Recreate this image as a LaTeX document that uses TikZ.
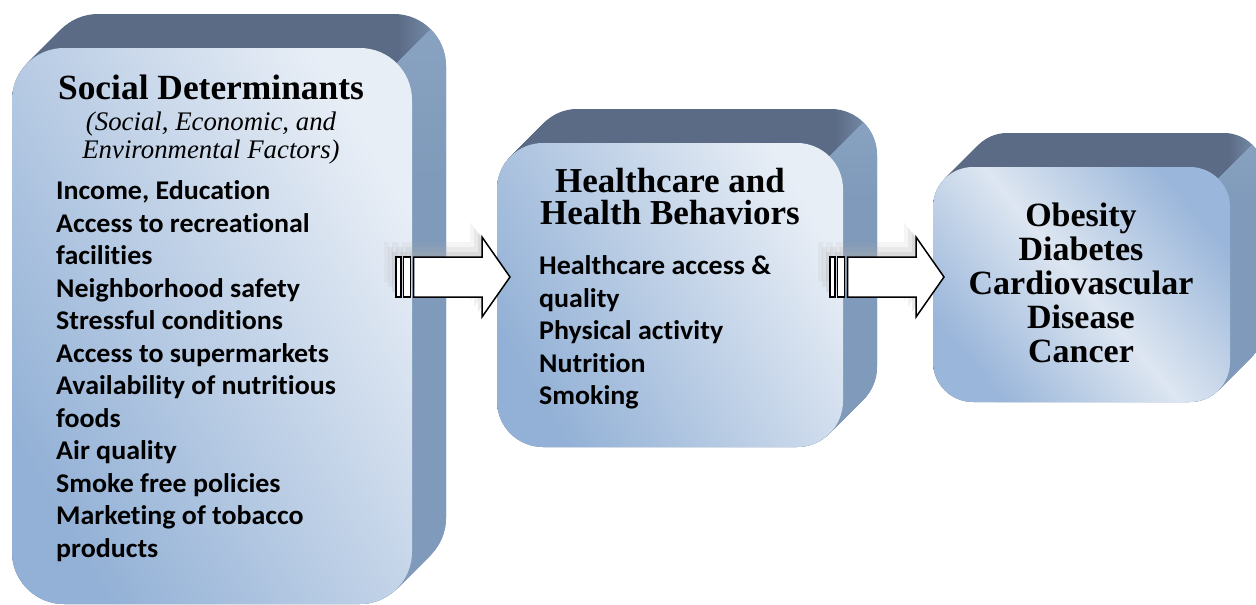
\documentclass[tikz,border=0pt]{standalone}
\usepackage{fontspec}
\setmainfont{Liberation Serif}
\newfontfamily\bodyfont{Carlito}[Ligatures=NoCommon,FakeStretch=1.035]
\usetikzlibrary{calc}
\definecolor{topface}{HTML}{5B6B85}
\definecolor{topfacelight}{HTML}{7F97B6}
\definecolor{sideface}{HTML}{7F9ABA}
\definecolor{sidefacelight}{HTML}{8AA3C2}
\definecolor{facedark}{HTML}{93B1D6}
\definecolor{facelight}{HTML}{E8EEF6}
\definecolor{facemid}{HTML}{DDE6F1}
\definecolor{facedarkb}{HTML}{9AB6DA}
\definecolor{ghostgray}{HTML}{B0B0B0}
\pgfdeclarehorizontalshading{topshade}{100bp}{color(0bp)=(topface); color(69bp)=(topface); color(75bp)=(topfacelight); color(100bp)=(topfacelight)}
\pgfdeclareverticalshading{sideshade}{100bp}{color(0bp)=(sideface); color(60bp)=(sideface); color(75bp)=(sidefacelight); color(100bp)=(sidefacelight)}
\tikzset{
  topfill/.style={shading=topshade},
  sidefill/.style={shading=sideshade},
  frontA/.style={top color=facelight,bottom color=facedark,shading angle=-60,inner sep=0pt,outer sep=0pt},
  frontB/.style={top color=facedarkb,bottom color=facedarkb,middle color=facemid,shading angle=-50,inner sep=0pt,outer sep=0pt},
  heading/.style={font=\fontsize{35.4}{35}\selectfont\bfseries,anchor=base,inner sep=0pt},
  headingB/.style={font=\fontsize{35}{35}\selectfont\bfseries,anchor=base,inner sep=0pt},
  headingC/.style={font=\fontsize{34}{34}\selectfont\bfseries,anchor=base,inner sep=0pt},
  subhead/.style={font=\fontsize{26.8}{27}\selectfont\itshape,anchor=base,inner sep=0pt},
  item/.style={font=\bodyfont\fontsize{27}{27}\selectfont\bfseries,anchor=base west,inner sep=0pt},
  arrowbody/.style={fill=white,draw=black,line width=1.5pt,line join=miter},
  ghostfill/.style={fill=ghostgray}
}
% extruded depth of a rounded box: x1 y1 x2 y2 radius
\newcommand\cubedepth[5]{%
  \foreach \i in {0,...,34}{\shade[topfill,rounded corners=#5pt] (#1+\i,#2-\i) rectangle (#3+\i,#4-\i);}
  \begin{scope}
    \pgfmathsetmacro\cpx{#3-0.293*#5}\pgfmathsetmacro\cpy{#2+0.293*#5}
    \clip (\cpx+1000,\cpy-1000) -- (\cpx-1000,\cpy+1000) -- (\cpx+1000,\cpy+1000) -- cycle;
    \foreach \i in {0,...,34}{\shade[sidefill,rounded corners=#5pt] (#1+\i,#2-\i) rectangle (#3+\i,#4-\i);}
  \end{scope}
}
% block arrow: x0, y centre, name
\newcommand\blockarrow[3]{%
  \foreach \dx/\dy/\op in {-12/-15/0.12,-8/-10/0.18,-4/-5/0.25}{
    \begin{scope}[shift={(\dx,\dy)}]
      \fill[ghostfill,opacity=\op] (#1,#2-20) rectangle (#1+5,#2+20);
      \fill[ghostfill,opacity=\op] (#1+7.5,#2-20) rectangle (#1+14.5,#2+20);
      \fill[ghostfill,opacity=\op] (#1+17.5,#2-20) -- (#1+86,#2-20) -- (#1+86,#2-40) -- (#1+114,#2) -- (#1+86,#2+40) -- (#1+86,#2+20) -- (#1+17.5,#2+20) -- cycle;
    \end{scope}
  }
  \draw[arrowbody] (#1,#2-20) rectangle (#1+5,#2+20);
  \draw[arrowbody] (#1+7.5,#2-20) rectangle (#1+14.5,#2+20);
  \draw[arrowbody] (#1+17.5,#2-20) -- (#1+86,#2-20) -- (#1+86,#2-40) -- (#1+114,#2) coordinate (#3) -- (#1+86,#2+40) -- (#1+86,#2+20) -- (#1+17.5,#2+20) -- cycle;
}
\begin{document}
\begin{tikzpicture}[x=1pt,y=-1pt]
\useasboundingbox (0,0) rectangle (1256,605);
\clip (0,0) rectangle (1256,605);
% box 1
\cubedepth{12}{48}{412}{604}{52}
\node[frontA,rounded corners=52pt,minimum width=400pt,minimum height=556pt] (b1) at (212,326) {};
% box 2
\cubedepth{497}{143}{843}{447}{46}
\node[frontA,rounded corners=46pt,minimum width=346pt,minimum height=304pt] (b2) at (670,295) {};
% box 3
\cubedepth{933}{167}{1230}{402}{40}
\node[frontB,rounded corners=40pt,minimum width=297pt,minimum height=235pt] (b3) at (1081.5,284.5) {};
% arrows
\blockarrow{396}{277}{a1}
\blockarrow{830}{277}{a2}
% texts box 1
\node[heading] (h1) at (211,99.5) {Social Determinants};
\node[subhead] (s1) at (211,130) {(Social, Economic, and};
\node[subhead] (s2) at (211,158) {Environmental Factors)};
\foreach \t [count=\n from 0] in {{Income, Education},Access to recreational,facilities,Neighborhood safety,Stressful conditions,Access to supermarkets,Availability of nutritious,foods,Air quality,Smoke free policies,Marketing of tobacco,products}
  \node[item] (i1-\n) at (56,199.5+32.5*\n) {\t};
% texts box 2
\node[headingB] (h2a) at (670,192) {Healthcare and};
\node[headingB] (h2b) at (670,224) {Health Behaviors};
\foreach \t [count=\n from 0] in {Healthcare access \&,quality,Physical activity,Nutrition,Smoking}
  \node[item] (i2-\n) at (539,274.5+32.5*\n) {\t};
% texts box 3
\foreach \t [count=\n from 0] in {Obesity,Diabetes,Cardiovascular,Disease,Cancer}
  \node[headingC] (h3-\n) at (1081,226+34*\n) {\t};
\end{tikzpicture}
\end{document}
